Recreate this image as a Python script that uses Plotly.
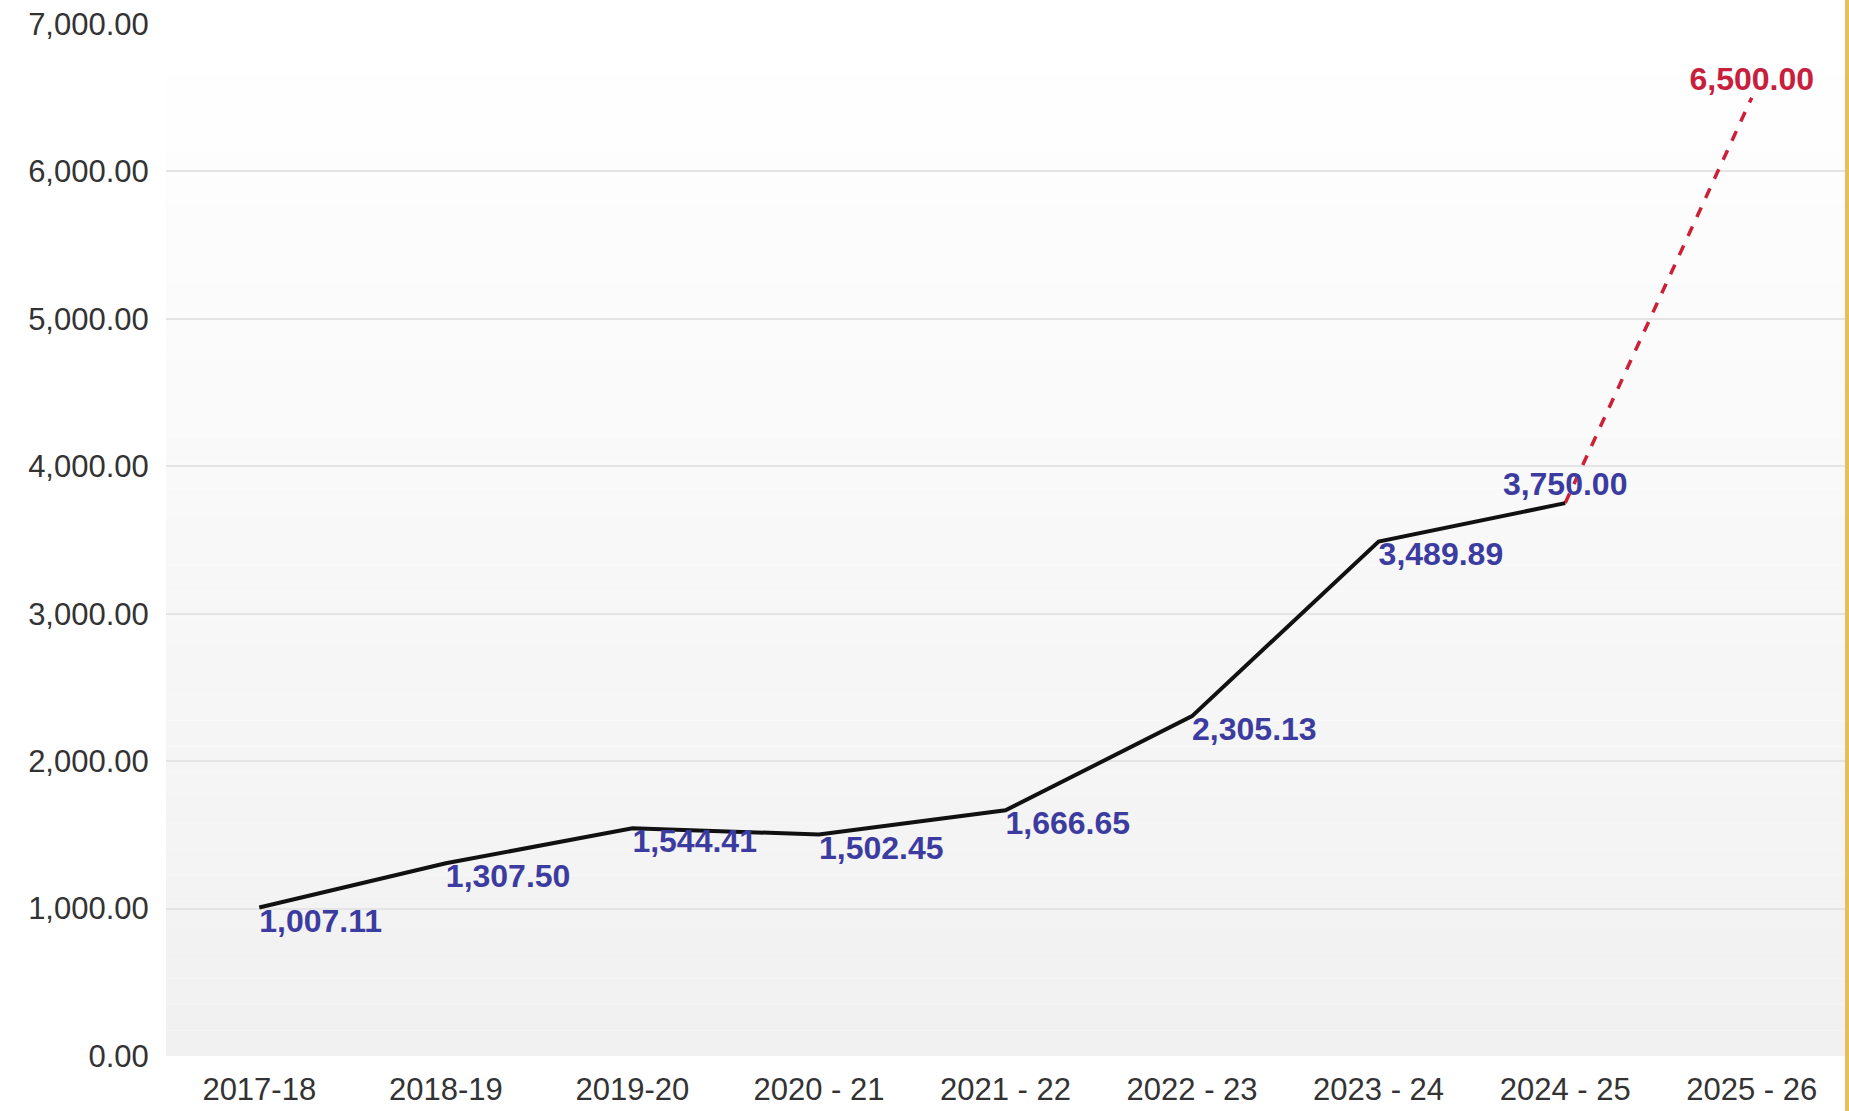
import plotly.graph_objects as go

years = ["2017-18", "2018-19", "2019-20", "2020 - 21", "2021 - 22",
         "2022 - 23", "2023 - 24", "2024 - 25", "2025 - 26"]
actual_years = years[:8]
actual_values = [1007.11, 1307.50, 1544.41, 1502.45, 1666.65, 2305.13, 3489.89, 3750.00]
proj_years = years[7:]
proj_values = [3750.00, 6500.00]
actual_textpos = ["bottom right"] * 7 + ["top center"]
y_ticks = [0, 1000, 2000, 3000, 4000, 5000, 6000, 7000]

FONT = "Liberation Sans, Arial, sans-serif"

fig = go.Figure()

fig.add_trace(go.Scatter(
    x=proj_years, y=proj_values, mode="lines+text",
    line=dict(color="#cc2036", width=3.5, dash="dash"),
    text=["", f"{proj_values[1]:,.2f}"], textposition="top center",
    textfont=dict(family=FONT, size=32, color="#c8203c", weight="bold"),
    cliponaxis=False, hoverinfo="skip", showlegend=False,
))

fig.add_trace(go.Scatter(
    x=actual_years, y=actual_values, mode="lines+text",
    line=dict(color="#111111", width=4),
    text=[f"{v:,.2f}" for v in actual_values], textposition=actual_textpos,
    textfont=dict(family=FONT, size=32, color="#3c3ca0", weight="bold"),
    cliponaxis=False, showlegend=False,
))

# vertical gradient background (white at top to light gray at bottom)
n = 40
shapes = []
for i in range(n):
    t = i / (n - 1)
    c = int(round(241 + (255 - 241) * t))
    shapes.append(dict(type="rect", xref="x domain", yref="y domain",
                       x0=0, x1=1, y0=i / n, y1=(i + 1) / n,
                       fillcolor=f"rgb({c},{c},{c})", line=dict(width=0),
                       layer="below"))
# golden edge strip at right
shapes.append(dict(type="rect", xref="paper", yref="paper",
                   x0=1.0, x1=1.02, y0=-0.06, y1=1.03,
                   fillcolor="#e6bf5c", line=dict(width=0), layer="above"))

fig.update_layout(
    width=1849, height=1111,
    margin=dict(l=166, r=4, t=24, b=39),
    paper_bgcolor="white", plot_bgcolor="white",
    font=dict(family=FONT, size=31, color="#333333"),
    shapes=shapes,
)
fig.update_xaxes(
    type="category", categoryorder="array", categoryarray=years,
    showgrid=False, zeroline=False, showline=False,
    ticks="outside", ticklen=6, tickcolor="rgba(0,0,0,0)",
    tickfont=dict(family=FONT, size=31, color="#333333"),
    range=[-0.5, 8.5],
)
fig.update_yaxes(
    range=[0, 7000], tickvals=y_ticks, tickformat=",.2f",
    showgrid=True, gridcolor="#e4e4e4", gridwidth=2,
    zeroline=False, showline=False,
    ticks="outside", ticklen=10, tickcolor="rgba(0,0,0,0)",
    tickfont=dict(family=FONT, size=31, color="#333333"),
)

fig.write_html(
    "out.html",
    config={"displayModeBar": False},
    post_script="document.body.style.margin='0';document.body.style.overflow='hidden';",
)
